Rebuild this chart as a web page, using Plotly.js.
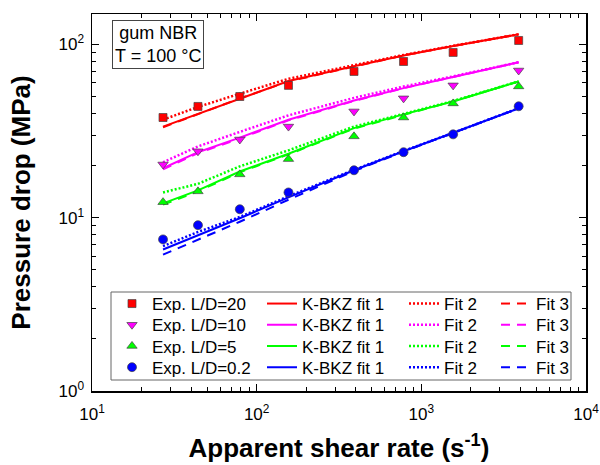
<!DOCTYPE html>
<html>
<head>
<meta charset="utf-8">
<script src="https://cdn.plot.ly/plotly-3.0.1.min.js"></script>
<style>html,body{margin:0;padding:0;background:#fff;}#chart{width:600px;height:465px;}</style>
</head>
<body>
<div id="chart"></div>
<script>
// ---- data ----
const shearRate = [27, 44, 79, 156, 390, 780, 1560, 3900];

const seriesNames = ['Exp. L/D=20', 'Exp. L/D=10', 'Exp. L/D=5', 'Exp. L/D=0.2'];
const fitNames = ['K-BKZ fit 1', 'Fit 2', 'Fit 3'];

const expLD20  = [37.9, 43.9, 50.1, 58.1, 69.9, 79.8, 90.0, 105.5];
const expLD10  = [20.3, 24.2, 28.3, 33.6, 41.1, 48.9, 58.1, 70.8];
const expLD5   = [12.3, 14.2, 17.8, 21.8, 29.5, 37.9, 45.7, 57.3];
const expLD02  = [7.5, 9.06, 11.2, 14.0, 18.8, 23.9, 30.3, 44.0];

const fit1LD20 = [33.6, 39.8, 49.1, 61.5, 75.0, 86.5, 98.0, 114.5];
const fit2LD20 = [36.8, 43.6, 52.0, 63.4, 76.0, 87.0, 98.3, 114.5];
const fit3LD20 = [33.3, 39.5, 48.8, 61.2, 74.8, 86.5, 98.0, 114.5];

const fit1LD10 = [19.3, 23.9, 29.0, 36.8, 47.5, 56.0, 65.0, 79.0];
const fit2LD10 = [20.9, 25.8, 31.3, 39.0, 49.2, 57.2, 65.5, 79.0];
const fit3LD10 = [19.0, 23.6, 28.7, 36.5, 47.2, 56.0, 65.0, 79.0];

const fit1LD5  = [12.1, 14.4, 18.5, 23.4, 32.9, 39.5, 46.9, 61.2];
const fit2LD5  = [14.0, 15.7, 19.8, 24.5, 33.6, 39.8, 47.2, 61.3];
const fit3LD5  = [11.9, 14.2, 18.3, 23.2, 32.7, 39.4, 47.0, 61.2];

const fit1LD02 = [6.56, 7.92, 9.93, 13.1, 18.8, 24.2, 30.8, 42.8];
const fit2LD02 = [6.86, 8.28, 10.1, 13.3, 18.9, 24.3, 30.9, 42.9];
const fit3LD02 = [6.12, 7.47, 9.48, 12.7, 18.6, 24.1, 30.8, 42.8];

const xTickVals = [10, 100, 1000, 10000];
const xTickText = ['10<sup>1</sup>', '10<sup>2</sup>', '10<sup>3</sup>', '10<sup>4</sup>'];
const yTickVals = [1, 10, 100];
const yTickText = ['10<sup>0</sup>', '10<sup>1</sup>', '10<sup>2</sup>'];

// ---- styling ----
const colors = ['#ff0000', '#ff00ff', '#00ff00', '#0000ff'];
const symbols = ['square', 'triangle-down', 'triangle-up', 'circle'];
const expData = [expLD20, expLD10, expLD5, expLD02];
const fitData = [
  [fit1LD20, fit1LD10, fit1LD5, fit1LD02],
  [fit2LD20, fit2LD10, fit2LD5, fit2LD02],
  [fit3LD20, fit3LD10, fit3LD5, fit3LD02]
];
const fitLines = [
  {width: 2},
  {width: 2.5, dash: '2px,2px'},
  {width: 2, dash: '9px,7px'}
];

const FONT = 'Arial, "Liberation Sans", sans-serif';

// legend layout: one small legend per cell of a 4x4 grid
const colX = [112, 262, 404, 496];
const rowY = [304, 325.2, 346.4, 367.6];
function legendId(row, col) { const n = row * 4 + col + 1; return n === 1 ? 'legend' : 'legend' + n; }

const traces = [];
for (let f = 2; f >= 0; f--) {
  for (let i = 0; i < 4; i++) {
    traces.push({x: shearRate, y: fitData[f][i], mode: 'lines', name: fitNames[f],
      legend: legendId(i, f + 1),
      line: Object.assign({color: colors[i]}, fitLines[f])});
  }
}
for (let i = 0; i < 4; i++) {
  traces.push({x: shearRate, y: expData[i], mode: 'markers', name: seriesNames[i], legend: legendId(i, 0),
    marker: {symbol: symbols[i], color: colors[i], size: symbols[i] === 'square' ? 8 : 9,
      line: {color: '#444', width: 0.7}}});
}

function px2x(p) { return (p - 92) / 494; }
function px2y(p) { return (391 - p) / 377; }

const axisCommon = {
  type: 'log', showline: true, linecolor: '#000', linewidth: 1.5, mirror: 'ticks',
  ticks: 'inside', ticklen: 7, tickwidth: 1, tickcolor: '#000', showgrid: false, zeroline: false,
  tickmode: 'array',
  tickfont: {family: FONT, size: 17, color: '#000'},
  minor: {ticks: 'inside', ticklen: 4, tickwidth: 1, tickcolor: '#000', dtick: 'D1', showgrid: false}
};

const layout = {
  width: 600, height: 465,
  margin: {l: 92, r: 14, t: 14, b: 74},
  paper_bgcolor: '#fff', plot_bgcolor: '#fff',
  font: {family: FONT, color: '#000'},
  showlegend: true,
  xaxis: Object.assign({}, axisCommon, {
    range: [1, 4], tickvals: xTickVals, ticktext: xTickText, ticklabelstandoff: 7,
    title: {text: 'Apparent shear rate (s<sup>-1</sup>)', font: {family: FONT, size: 26, weight: 'bold', color: '#000'}, standoff: 16}
  }),
  yaxis: Object.assign({}, axisCommon, {
    range: [0, Math.log10(150)], tickvals: yTickVals, ticktext: yTickText, ticklabelstandoff: 3,
    title: {text: 'Pressure drop (MPa)', font: {family: FONT, size: 26, weight: 'bold', color: '#000'}, standoff: 20}
  }),
  shapes: [{
    type: 'rect', xref: 'paper', yref: 'paper', layer: 'above',
    x0: px2x(111), x1: px2x(571), y0: px2y(380), y1: px2y(292),
    line: {color: '#666', width: 1}, fillcolor: 'rgba(255,255,255,0)'
  }],
  annotations: [{
    xref: 'paper', yref: 'paper', x: px2x(157.5), y: px2y(44.5), xanchor: 'center', yanchor: 'middle',
    text: 'gum NBR<br>T = 100 °C', showarrow: false, align: 'center',
    font: {family: FONT, size: 18, color: '#000'},
    bordercolor: '#444', borderwidth: 1, borderpad: 2, bgcolor: '#fff'
  }]
};

for (let r = 0; r < 4; r++) {
  for (let c = 0; c < 4; c++) {
    layout[legendId(r, c)] = {
      bgcolor: 'rgba(0,0,0,0)', borderwidth: 0, orientation: 'v',
      xanchor: 'left', yanchor: 'middle', x: px2x(colX[c]), y: px2y(rowY[r]),
      font: {family: FONT, size: 17, color: '#000'}
    };
  }
}

Plotly.newPlot('chart', traces, layout, {staticPlot: true, displayModeBar: false});
</script>
</body>
</html>
